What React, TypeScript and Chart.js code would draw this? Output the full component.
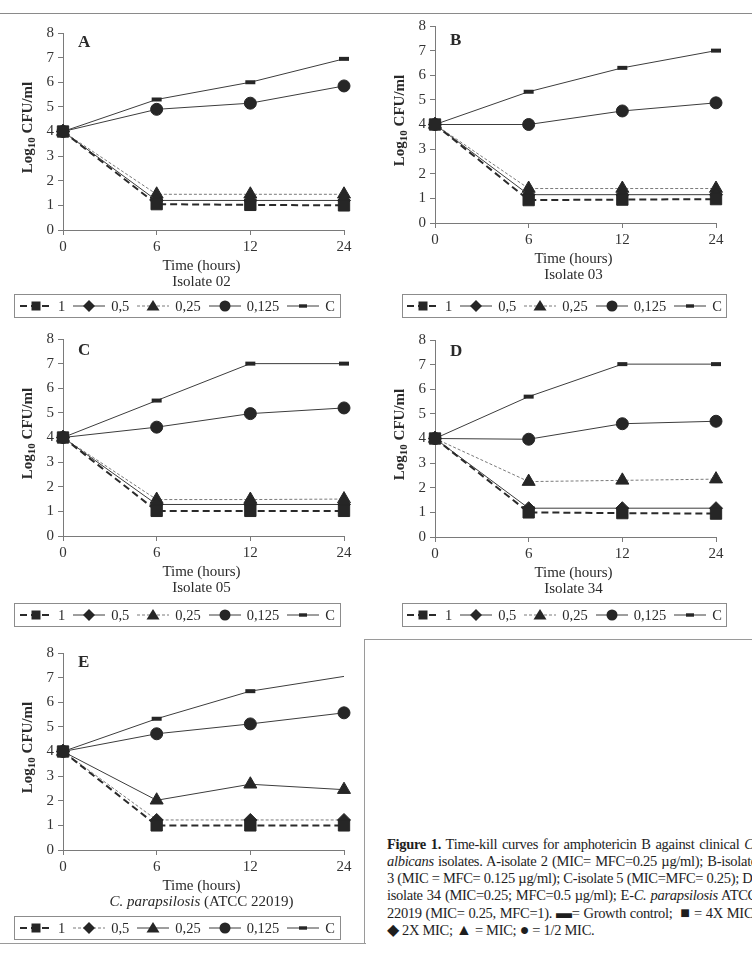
import React, { useEffect, useRef } from "react";
import { Chart, registerables } from "chart.js";

Chart.register(...registerables);

// ---- data -------------------------------------------------------------
const timeLabels = ["0", "6", "12", "24"];
const seriesLabels = ["1", "0,5", "0,25", "0,125", "C"];
const yMin = 0;
const yMax = 8;

// Isolate 02
const iso02_1 = [4, 1.05, 1.02, 1.0];
const iso02_05 = [4, 1.2, 1.2, 1.2];
const iso02_025 = [4, 1.45, 1.45, 1.45];
const iso02_0125 = [4, 4.9, 5.15, 5.85];
const iso02_C = [4, 5.3, 6.0, 6.95];

// Isolate 03
const iso03_1 = [4, 0.93, 0.95, 0.97];
const iso03_05 = [4, 1.15, 1.15, 1.15];
const iso03_025 = [4, 1.4, 1.4, 1.4];
const iso03_0125 = [4, 4.0, 4.55, 4.88];
const iso03_C = [4, 5.33, 6.3, 7.0];

// Isolate 05
const iso05_1 = [4, 1.02, 1.02, 1.02];
const iso05_05 = [4, 1.28, 1.28, 1.28];
const iso05_025 = [4, 1.48, 1.48, 1.5];
const iso05_0125 = [4, 4.42, 4.97, 5.2];
const iso05_C = [4, 5.5, 7.0, 7.0];

// Isolate 34
const iso34_1 = [4, 1.0, 0.97, 0.95];
const iso34_05 = [4, 1.17, 1.17, 1.17];
const iso34_025 = [4, 2.25, 2.3, 2.35];
const iso34_0125 = [4, 3.97, 4.6, 4.7];
const iso34_C = [4, 5.7, 7.02, 7.02];

// C. parapsilosis ATCC 22019
const atcc_1 = [4, 1.0, 1.0, 1.0];
const atcc_05 = [4, 1.22, 1.22, 1.22];
const atcc_025 = [4, 2.02, 2.67, 2.45];
const atcc_0125 = [4, 4.72, 5.12, 5.57];
const atcc_C = [4, 5.33, 6.45, 7.05];

// ---- styling ----------------------------------------------------------
type LineKind = "dashed" | "dotted" | "solid";
const markerStyles = ["rect", "rectRot", "triangle", "circle", "line"];
const markerRadii = [8, 6.5, 7.5, 6, 5];
const kindsStandard: LineKind[] = ["dashed", "solid", "dotted", "solid", "solid"];
const kindsAtcc: LineKind[] = ["dashed", "dotted", "solid", "solid", "solid"];

const INK = "#262626";
const AXIS = "#7a7a7a";
const SERIF = '"Liberation Serif", "Times New Roman", serif';

function lineProps(kind: LineKind) {
  if (kind === "dashed") return { color: "#2a2a2a", width: 2, dash: [7, 4] };
  if (kind === "dotted") return { color: "#7a7a7a", width: 1, dash: [3, 2] };
  return { color: "#3c3c3c", width: 1, dash: [] as number[] };
}

type TextPart = { text: string; italic?: boolean };

type PanelDef = {
  letter: string;
  subtitle: TextPart[];
  series: number[][];
  kinds: LineKind[];
  hideLastC?: boolean;
  plotLeft: number;
  plotTop: number;
  letterDy: number;
  legendLeft: number;
  legendTop: number;
  legendWidth: number;
};

const panels: PanelDef[] = [
  {
    letter: "A",
    subtitle: [{ text: "Isolate 02" }],
    series: [iso02_1, iso02_05, iso02_025, iso02_0125, iso02_C],
    kinds: kindsStandard,
    plotLeft: 63, plotTop: 33, letterDy: 10,
    legendLeft: 14, legendTop: 294, legendWidth: 327,
  },
  {
    letter: "B",
    subtitle: [{ text: "Isolate 03" }],
    series: [iso03_1, iso03_05, iso03_025, iso03_0125, iso03_C],
    kinds: kindsStandard,
    plotLeft: 435, plotTop: 26, letterDy: 15,
    legendLeft: 402, legendTop: 294, legendWidth: 325,
  },
  {
    letter: "C",
    subtitle: [{ text: "Isolate 05" }],
    series: [iso05_1, iso05_05, iso05_025, iso05_0125, iso05_C],
    kinds: kindsStandard,
    plotLeft: 63, plotTop: 339, letterDy: 12,
    legendLeft: 14, legendTop: 603, legendWidth: 327,
  },
  {
    letter: "D",
    subtitle: [{ text: "Isolate 34" }],
    series: [iso34_1, iso34_05, iso34_025, iso34_0125, iso34_C],
    kinds: kindsStandard,
    plotLeft: 435, plotTop: 340, letterDy: 12,
    legendLeft: 402, legendTop: 603, legendWidth: 325,
  },
  {
    letter: "E",
    subtitle: [{ text: "C. parapsilosis", italic: true }, { text: " (ATCC 22019)" }],
    series: [atcc_1, atcc_05, atcc_025, atcc_0125, atcc_C],
    kinds: kindsAtcc,
    hideLastC: true,
    plotLeft: 63, plotTop: 653, letterDy: 10,
    legendLeft: 14, legendTop: 916, legendWidth: 327,
  },
];

// canvas geometry around each plot area
const Y_W = 63;
const PAD_TOP = 30;
const PAD_RIGHT = 20;
const X_H = 70;
const PLOT_W = 281;
const PLOT_H = 197;
const CANVAS_W = Y_W + PLOT_W + PAD_RIGHT;
const CANVAS_H = PAD_TOP + PLOT_H + X_H;

function drawParts(ctx: CanvasRenderingContext2D, parts: TextPart[], cx: number, y: number, size: number) {
  const fontOf = (p: TextPart) => `${p.italic ? "italic " : ""}${size}px ${SERIF}`;
  let total = 0;
  const widths = parts.map((p) => {
    ctx.font = fontOf(p);
    const w = ctx.measureText(p.text).width;
    total += w;
    return w;
  });
  let x = cx - total / 2;
  ctx.textAlign = "left";
  parts.forEach((p, i) => {
    ctx.font = fontOf(p);
    ctx.fillText(p.text, x, y);
    x += widths[i];
  });
}

// axis titles and panel letter
const panelText = {
  id: "panelText",
  afterDraw(chart: any, _args: any, opts: any) {
    const { ctx, chartArea: ca } = chart;
    ctx.save();
    ctx.fillStyle = "#2a2a2a";
    ctx.textBaseline = "middle";

    ctx.font = `bold 17px ${SERIF}`;
    ctx.textAlign = "left";
    ctx.fillText(opts.letter, ca.left + 15, ca.top + opts.letterDy);

    const cx = (ca.left + ca.right) / 2 - 2;
    drawParts(ctx, [{ text: "Time (hours)" }], cx, ca.bottom + 36, 15);
    drawParts(ctx, opts.subtitle, cx, ca.bottom + 52, 15);

    // rotated "Log10 CFU/ml" with subscript
    ctx.translate(ca.left - 35, (ca.top + ca.bottom) / 2 - 4);
    ctx.rotate(-Math.PI / 2);
    const parts = [
      { text: "Log", font: `bold 15px ${SERIF}`, dy: 0 },
      { text: "10", font: `bold 11px ${SERIF}`, dy: 4 },
      { text: " CFU/ml", font: `bold 15px ${SERIF}`, dy: 0 },
    ];
    let total = 0;
    const ws = parts.map((p) => {
      ctx.font = p.font;
      const w = ctx.measureText(p.text).width;
      total += w;
      return w;
    });
    let x = -total / 2;
    parts.forEach((p, i) => {
      ctx.font = p.font;
      ctx.fillText(p.text, x, p.dy);
      x += ws[i];
    });
    ctx.restore();
  },
};

function Panel({ p }: { p: PanelDef }) {
  const ref = useRef<HTMLCanvasElement>(null);
  useEffect(() => {
    const datasets = p.series.map((values, i) => {
      const lp = lineProps(p.kinds[i]);
      const isC = i === 4;
      const r = markerRadii[i];
      return {
        label: seriesLabels[i],
        data: values,
        borderColor: lp.color,
        borderWidth: lp.width,
        borderDash: lp.dash,
        tension: 0,
        fill: false,
        clip: false as any,
        pointStyle: markerStyles[i] as any,
        pointRadius: isC && p.hideLastC ? values.map((_, k) => (k === values.length - 1 ? 0 : r)) : r,
        pointBackgroundColor: INK,
        pointBorderColor: INK,
        pointBorderWidth: isC ? 4 : 1,
      };
    });
    const tickFont = { family: SERIF, size: 15 };
    const chart = new Chart(ref.current as HTMLCanvasElement, {
      type: "line",
      data: { labels: timeLabels, datasets },
      plugins: [panelText],
      options: {
        responsive: false,
        animation: false,
        layout: { padding: { top: PAD_TOP, right: PAD_RIGHT, left: 0, bottom: 0 } },
        plugins: {
          legend: { display: false },
          tooltip: { enabled: false },
          panelText: { letter: p.letter, letterDy: p.letterDy, subtitle: p.subtitle },
        } as any,
        scales: {
          x: {
            type: "category",
            offset: false,
            grid: { drawOnChartArea: false, tickLength: 5, color: AXIS },
            border: { color: AXIS, width: 1 },
            ticks: { font: tickFont, color: "#333", padding: 3, maxRotation: 0, autoSkip: false },
            afterFit: (s: any) => { s.height = X_H; },
          },
          y: {
            min: yMin,
            max: yMax,
            grid: { drawOnChartArea: false, tickLength: 5, color: AXIS },
            border: { color: AXIS, width: 1 },
            ticks: { stepSize: 1, font: tickFont, color: "#333", padding: 4 },
            afterFit: (s: any) => { s.width = Y_W; },
          },
        },
      },
    });
    return () => chart.destroy();
  }, [p]);
  return (
    <canvas
      ref={ref}
      width={CANVAS_W}
      height={CANVAS_H}
      style={{ position: "absolute", left: p.plotLeft - Y_W, top: p.plotTop - PAD_TOP, width: CANVAS_W, height: CANVAS_H }}
    />
  );
}

function LegendIcon({ kind, marker }: { kind: LineKind; marker: number }) {
  const lp = lineProps(kind);
  const cx = 16;
  const cy = 7;
  let shape: React.ReactNode = null;
  if (marker === 0) shape = <rect x={cx - 4.5} y={cy - 4.5} width={9} height={9} fill={INK} />;
  if (marker === 1) shape = <polygon points={`${cx - 6},${cy} ${cx},${cy - 6} ${cx + 6},${cy} ${cx},${cy + 6}`} fill={INK} />;
  if (marker === 2) shape = <polygon points={`${cx},${cy - 6} ${cx + 6.5},${cy + 4.5} ${cx - 6.5},${cy + 4.5}`} fill={INK} />;
  if (marker === 3) shape = <circle cx={cx} cy={cy} r={5.5} fill={INK} />;
  if (marker === 4) shape = <rect x={cx - 4} y={cy - 1.7} width={8} height={3.4} fill={INK} />;
  return (
    <svg width={32} height={14} style={{ display: "block" }}>
      <line x1={0} x2={32} y1={cy} y2={cy} stroke={lp.color} strokeWidth={lp.width}
        strokeDasharray={lp.dash.length ? lp.dash.join(" ") : undefined} />
      {shape}
    </svg>
  );
}

function Legend({ p }: { p: PanelDef }) {
  return (
    <div
      style={{
        position: "absolute", left: p.legendLeft, top: p.legendTop, width: p.legendWidth, height: 24,
        boxSizing: "border-box", border: "1.5px solid #8c8c8c", display: "flex", alignItems: "center",
        justifyContent: "center", fontFamily: SERIF, fontSize: 14.5, color: "#2a2a2a",
      }}
    >
      {seriesLabels.map((lab, i) => (
        <span key={lab} style={{ display: "inline-flex", alignItems: "center", marginLeft: i === 0 ? 0 : 8 }}>
          <LegendIcon kind={p.kinds[i]} marker={i} />
          <span style={{ marginLeft: 6 }}>{lab}</span>
        </span>
      ))}
    </div>
  );
}

const sym = (s: string) => <span style={{ fontSize: 16, lineHeight: "17px" }}>{s}</span>;

const captionLines: React.ReactNode[] = [
  <><b>Figure 1.</b> Time-kill curves for amphotericin B against clinical <i>C.</i></>,
  <><i>albicans</i> isolates. A-isolate 2 (MIC= MFC=0.25 µg/ml); B-isolate</>,
  <>3 (MIC = MFC= 0.125 µg/ml); C-isolate 5 (MIC=MFC= 0.25); D-</>,
  <>isolate 34 (MIC=0.25; MFC=0.5 µg/ml); E-<i>C. parapsilosis</i> ATCC</>,
  <>22019 (MIC= 0.25, MFC=1). {sym("▬")}= Growth control;&nbsp; {sym("■")} = 4X MIC;</>,
  <>{sym("◆")} 2X MIC; {sym("▲")} = MIC; {sym("●")} = 1/2 MIC.</>,
];

export default function App() {
  const frame = "1.5px solid #9a9a9a";
  return (
    <div
      style={{
        position: "absolute", left: 0, top: 0, width: 752, height: 958, overflow: "hidden",
        background: "#fff", fontFamily: SERIF, color: "#222",
      }}
    >
      <div style={{ position: "absolute", left: 0, top: 13, width: 752, borderTop: "1.5px solid #8a8a8a" }} />
      {panels.map((p) => (
        <Panel key={p.letter} p={p} />
      ))}
      {panels.map((p) => (
        <Legend key={"lg" + p.letter} p={p} />
      ))}
      {/* caption frame */}
      <div style={{ position: "absolute", left: 364, top: 639, width: 400, borderTop: frame }} />
      <div style={{ position: "absolute", left: 364, top: 639, height: 305, borderLeft: frame }} />
      <div style={{ position: "absolute", left: 0, top: 943, width: 366, borderTop: frame }} />
      {captionLines.map((content, i) => (
        <div
          key={i}
          style={{
            position: "absolute", left: 387, top: 836 + i * 17, width: 370, height: 17, lineHeight: "17px",
            fontSize: 14.5, whiteSpace: "nowrap", textAlign: i === captionLines.length - 1 ? "left" : "justify",
            textAlignLast: i === captionLines.length - 1 ? "left" : "justify", letterSpacing: -0.3, color: "#1e1e1e",
          }}
        >
          {content}
        </div>
      ))}
    </div>
  );
}
